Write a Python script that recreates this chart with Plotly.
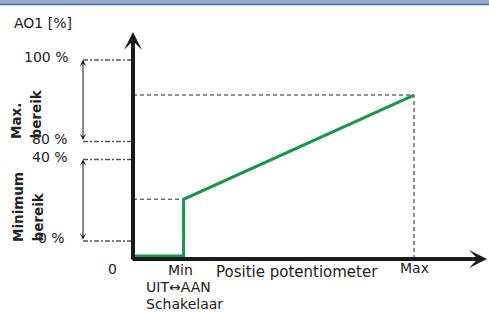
import plotly.graph_objects as go

# ---- data (schematic diagram units) ----
# x: potentiometer position (0 = origin, Min, Max)
pos_min = 18
pos_max = 100
x_tick_text = ["0", "Min", "Max"]
x_tick_vals = [0, pos_min, pos_max]

# y: schematic levels of AO1
level_vals = [100, 59, 50, 9]
level_text = ["100 %", "80 %", "40 %", "0 %"]

# output characteristic (green)
output_x = [0, pos_min, pos_min, pos_max]
output_y = [1.5, 1.5, 30, 82.4]

# ---- scales (pixel geometry of the canvas) ----
W, H = 489, 313
ox, oy = 133, 259          # origin in pixels
sx, sy = 2.81, 1.99        # pixels per unit
x_range = [-ox / sx, (W - ox) / sx]
y_range = [-(H - oy) / sy, oy / sy]

def X(px):
    return (px - ox) / sx

def Y(py):
    return (oy - py) / sy

FONT = "DejaVu Sans"
TXT = "#222222"
DASH_C = "#6e6e6e"

fig = go.Figure()

# green characteristic
fig.add_trace(go.Scatter(x=output_x, y=output_y, mode="lines",
                         line=dict(color="#16984a", width=3),
                         hoverinfo="skip", showlegend=False))

# inner dashed guide lines
fig.add_trace(go.Scatter(x=[0, output_x[2]], y=[output_y[2], output_y[2]], mode="lines",
                         line=dict(color=DASH_C, width=1.5, dash="4px,3px"),
                         hoverinfo="skip", showlegend=False))
fig.add_trace(go.Scatter(x=[0, output_x[3]], y=[output_y[3], output_y[3]], mode="lines",
                         line=dict(color=DASH_C, width=1.5, dash="4px,3px"),
                         hoverinfo="skip", showlegend=False))
fig.add_trace(go.Scatter(x=[output_x[3], output_x[3]], y=[0, output_y[3]], mode="lines",
                         line=dict(color=DASH_C, width=1.5, dash="4px,3px"),
                         hoverinfo="skip", showlegend=False))

# left level lines (dash-dot)
for lv in level_vals:
    fig.add_trace(go.Scatter(x=[X(83), 0], y=[lv, lv], mode="lines",
                             line=dict(color="#555555", width=1.5, dash="5px,2px,2px,2px"),
                             hoverinfo="skip", showlegend=False))

annotations = []

# axes with arrows
annotations.append(dict(x=0, y=Y(32), ax=0, ay=Y(261), xref="x", yref="y", axref="x", ayref="y",
                        text="", showarrow=True, arrowhead=3, arrowsize=0.75, arrowwidth=4,
                        arrowcolor="#1a1a1a"))
annotations.append(dict(x=X(487), y=0, ax=X(131), ay=0, xref="x", yref="y", axref="x", ayref="y",
                        text="", showarrow=True, arrowhead=3, arrowsize=0.75, arrowwidth=4,
                        arrowcolor="#1a1a1a"))

# range double arrows
for top, bot in [(level_vals[0], level_vals[1]), (level_vals[2], level_vals[3])]:
    annotations.append(dict(x=X(83), y=top, ax=X(83), ay=bot, xref="x", yref="y",
                            axref="x", ayref="y", text="", showarrow=True,
                            arrowhead=3, startarrowhead=3, arrowside="end+start",
                            arrowsize=1.1, startarrowsize=1.1, arrowwidth=1, arrowcolor="#111111"))

# level labels
label_right = [70, 70, 70, 67]
for lv, t, r in zip(level_vals, level_text, label_right):
    annotations.append(dict(x=X(r), y=lv, xref="x", yref="y", text=t, showarrow=False,
                            xanchor="right", yanchor="middle", yshift=3,
                            font=dict(family=FONT, size=14, color=TXT)))

# rotated range labels (one annotation per line, bottom aligned)
rot_labels = [("Max.", 16, 141), ("bereik", 35, 141), ("Minimum", 18, 244), ("bereik", 37, 244)]
for t, cx, bot in rot_labels:
    annotations.append(dict(x=X(cx), y=Y(bot), xref="x", yref="y", text="<b>%s</b>" % t,
                            showarrow=False, textangle=-90,
                            xanchor="center", yanchor="bottom",
                            font=dict(family=FONT, size=13.5, color=TXT)))

# x labels
annotations.append(dict(x=X(112), y=Y(269), xref="x", yref="y", text=x_tick_text[0],
                        showarrow=False, xanchor="center", yanchor="middle",
                        font=dict(family=FONT, size=14, color=TXT)))
annotations.append(dict(x=x_tick_vals[1], y=Y(270), xref="x", yref="y", text=x_tick_text[1],
                        showarrow=False, xanchor="center", yanchor="middle", xshift=-3,
                        font=dict(family=FONT, size=14, color=TXT)))
annotations.append(dict(x=x_tick_vals[2], y=Y(268), xref="x", yref="y", text=x_tick_text[2],
                        showarrow=False, xanchor="center", yanchor="middle",
                        font=dict(family=FONT, size=14, color=TXT)))
annotations.append(dict(x=X(214), y=Y(272), xref="x", yref="y", text="Positie potentiometer",
                        showarrow=False, xanchor="left", yanchor="middle",
                        font=dict(family=FONT, size=15, color=TXT)))
annotations.append(dict(x=X(144), y=Y(287), xref="x", yref="y", text="UIT\u2194AAN",
                        showarrow=False, xanchor="left", yanchor="middle",
                        font=dict(family=FONT, size=14, color=TXT)))
annotations.append(dict(x=X(144), y=Y(304), xref="x", yref="y", text="Schakelaar",
                        showarrow=False, xanchor="left", yanchor="middle",
                        font=dict(family=FONT, size=14, color=TXT)))

# y axis title
annotations.append(dict(x=X(12), y=Y(23), xref="x", yref="y", text="AO1 [%]",
                        showarrow=False, xanchor="left", yanchor="middle",
                        font=dict(family=FONT, size=14, color=TXT)))

shapes = [
    dict(type="rect", xref="paper", yref="paper", x0=0, x1=1, y0=1 - 4 / H, y1=1,
         fillcolor="#98aac8", line=dict(width=0), layer="above"),
    dict(type="line", xref="paper", yref="paper", x0=0, x1=1, y0=1 - 4.5 / H, y1=1 - 4.5 / H,
         line=dict(color="#3f6fa8", width=1.5), layer="above"),
]

fig.update_layout(
    width=W, height=H,
    margin=dict(l=0, r=0, t=0, b=0),
    paper_bgcolor="white", plot_bgcolor="white",
    xaxis=dict(range=x_range, visible=False, fixedrange=True),
    yaxis=dict(range=y_range, visible=False, fixedrange=True),
    annotations=annotations,
    shapes=shapes,
    showlegend=False,
)

fig.write_html("out.html", config={"displayModeBar": False},
               post_script="document.body.style.margin='0';document.body.style.overflow='hidden';")
